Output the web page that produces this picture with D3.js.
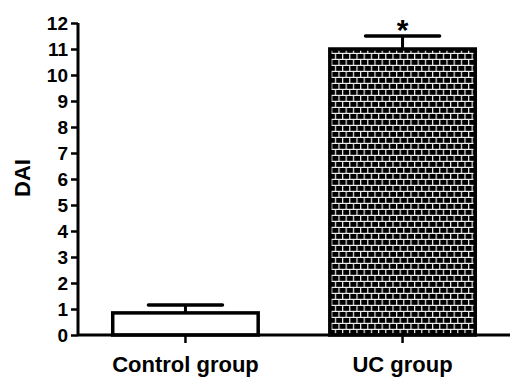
<!DOCTYPE html>
<html>
<head>
<meta charset="utf-8">
<script src="https://cdn.jsdelivr.net/npm/d3@7"></script>
<style>
body { margin: 0; background: #fff; }
text { font-family: "Liberation Sans", Arial, sans-serif; font-weight: bold; }
</style>
</head>
<body>
<script>
var groups = ["Control group", "UC group"]
var means = [0.85, 11.0]
var errs = [0.3, 0.5]
var sigMarks = ["", "*"]
var yTicks = [0, 1, 2, 3, 4, 5, 6, 7, 8, 9, 10, 11, 12]

var svg = d3.select("body").append("svg")
	.attr("width", 510)
	.attr("height", 379)

// brick fill for the UC bar
var defs = svg.append("defs")
var pat = defs.append("pattern")
	.attr("id", "brick")
	.attr("patternUnits", "userSpaceOnUse")
	.attr("width", 7.2)
	.attr("height", 12)
pat.append("rect").attr("width", 7.2).attr("height", 12).attr("fill", "#000")
pat.append("rect").attr("x", 0).attr("y", 4.8).attr("width", 7.2).attr("height", 1.2).attr("fill", "#eee")
pat.append("rect").attr("x", 0).attr("y", 10.8).attr("width", 7.2).attr("height", 1.2).attr("fill", "#eee")
pat.append("rect").attr("x", 0).attr("y", 0).attr("width", 1.2).attr("height", 6).attr("fill", "#eee")
pat.append("rect").attr("x", 3.6).attr("y", 6).attr("width", 1.2).attr("height", 6).attr("fill", "#eee")

var y = d3.scaleLinear().domain([0, 12]).range([335, 23])
var x = d3.scaleBand().domain(groups).range([78, 510]).paddingInner(0.33).paddingOuter(0.16)

var yAxis = svg.append("g")
	.attr("transform", "translate(78,0)")
	.call(d3.axisLeft(y).tickValues(yTicks).tickSize(7).tickPadding(3).tickFormat(d3.format("d")))
yAxis.select(".domain").attr("stroke-width", 3).attr("d", "M0," + y(12) + "V" + y(0))
yAxis.selectAll(".tick line").attr("stroke-width", 2.5)
yAxis.selectAll(".tick text").attr("font-size", 19).attr("fill", "#000").attr("dy", "0.36em")

var bars = svg.selectAll("g.bar")
	.data(groups)
	.enter()
	.append("g")
	.attr("class", "bar")

bars.append("line")
	.attr("x1", function(d) {return x(d) + x.bandwidth() / 2})
	.attr("x2", function(d) {return x(d) + x.bandwidth() / 2})
	.attr("y1", function(d, i) {return y(means[i])})
	.attr("y2", function(d, i) {return y(means[i] + errs[i])})
	.attr("stroke", "#000").attr("stroke-width", 3)

bars.append("line")
	.attr("x1", function(d) {return x(d) + x.bandwidth() / 2 - 37})
	.attr("x2", function(d) {return x(d) + x.bandwidth() / 2 + 37})
	.attr("y1", function(d, i) {return y(means[i] + errs[i])})
	.attr("y2", function(d, i) {return y(means[i] + errs[i])})
	.attr("stroke", "#000").attr("stroke-width", 3.5).attr("stroke-linecap", "round")

bars.append("rect")
	.attr("x", function(d) {return x(d)})
	.attr("width", x.bandwidth())
	.attr("y", function(d, i) {return y(means[i])})
	.attr("height", function(d, i) {return y(0) - y(means[i])})
	.attr("fill", function(d, i) {return i == 1 ? "url(#brick)" : "#fff"})
	.attr("stroke", "#000")
	.attr("stroke-width", 3.5)

bars.append("text")
	.attr("x", function(d) {return x(d) + x.bandwidth() / 2})
	.attr("y", function(d, i) {return y(means[i] + errs[i]) + 4})
	.attr("text-anchor", "middle")
	.attr("font-size", 30)
	.attr("font-weight", "normal")
	.text(function(d, i) {return sigMarks[i]})

var xAxis = svg.append("g")
	.attr("transform", "translate(0,335)")
	.call(d3.axisBottom(x).tickSize(8).tickPadding(13))
xAxis.select(".domain").attr("stroke-width", 3).attr("d", "M78,0H510")
xAxis.selectAll(".tick line").attr("stroke-width", 2.5)
xAxis.selectAll(".tick text").attr("font-size", 22).attr("fill", "#000")

svg.append("text")
	.attr("transform", "translate(29.5,178) rotate(-90)")
	.attr("text-anchor", "middle")
	.attr("font-size", 22)
	.text("DAI")
</script>
</body>
</html>
